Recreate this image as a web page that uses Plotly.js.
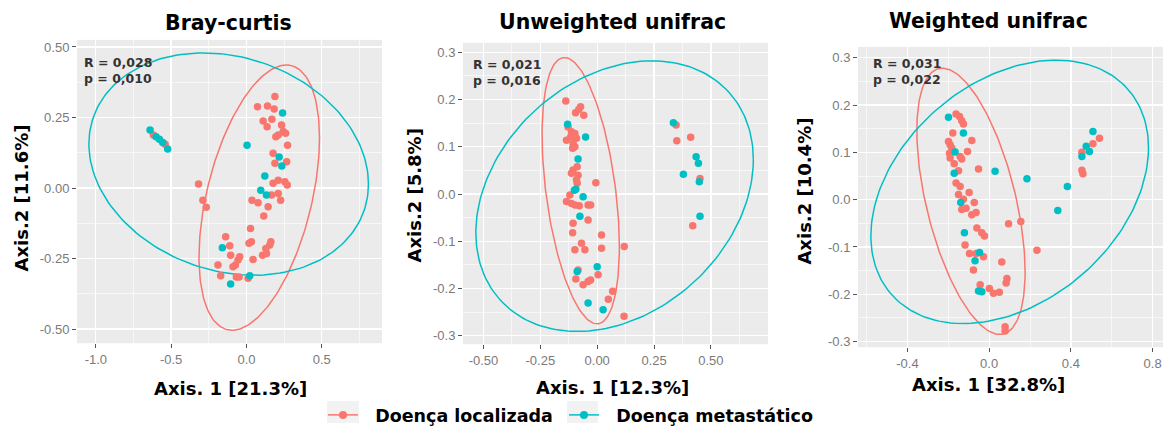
<!DOCTYPE html>
<html>
<head>
<meta charset="utf-8">
<script src="https://cdn.plot.ly/plotly-3.0.1.min.js"></script>
<style>html,body{margin:0;padding:0;background:#fff;}#chart{width:1164px;height:433px;}</style>
</head>
<body>
<div id="chart"></div>
<script>
// ---------- DATA ----------
const groupNames = ["Doença localizada", "Doença metastático"];
const panelTitles = ["Bray-curtis", "Unweighted unifrac", "Weighted unifrac"];
const xTitles = ["Axis. 1 [21.3%]", "Axis. 1 [12.3%]", "Axis. 1 [32.8%]"];
const yTitles = ["Axis.2 [11.6%]", "Axis.2 [5.8%]", "Axis.2 [10.4%]"];
const statR = ["R = 0,028", "R = 0,021", "R = 0,031"];
const statP = ["p = 0,010", "p = 0,016", "p = 0,022"];

// Bray-curtis
const brayLocX = [0.189,0.073,0.14,0.184,0.111,0.169,0.137,0.233,0.244,0.211,0.195,0.26,0.273,0.177,0.189,0.267,
  -0.318,-0.289,-0.267,0.037,0.077,0.144,0.115,0.167,0.211,0.227,0.177,0.211,0.255,0.271,
  0.027,0.033,0.017,0.162,0.155,0.129,0.107,0.133,-0.138,-0.111,-0.105,-0.045,-0.056,-0.073,-0.089,0.044,
  -0.189,-0.171,-0.067,-0.049,0.011,-0.618,-0.54];
const brayLocY = [0.324,0.288,0.291,0.28,0.238,0.244,0.217,0.223,0.2,0.188,0.182,0.194,0.152,0.123,0.088,0.093,
  0.014,-0.043,-0.068,-0.043,-0.052,-0.066,-0.099,-0.025,-0.019,-0.043,0.017,0.028,0.022,0.011,
  -0.143,-0.19,-0.196,-0.19,-0.202,-0.214,-0.238,-0.232,-0.173,-0.205,-0.238,-0.244,-0.255,-0.273,-0.279,-0.253,
  -0.273,-0.311,-0.315,-0.315,-0.32,0.188,0.155];
const brayMetX = [0.24,0.004,0.217,0.235,0.122,0.095,0.133,-0.16,0.022,-0.105,-0.64,-0.6,-0.578,-0.556,-0.523];
const brayMetY = [0.266,0.152,0.11,0.078,0.043,-0.008,-0.025,-0.212,-0.311,-0.34,0.206,0.182,0.173,0.161,0.138];

// Unweighted unifrac
const unwLocX = [-0.138,-0.095,-0.073,-0.059,-0.081,-0.128,-0.113,-0.098,-0.135,-0.117,-0.106,-0.091,-0.108,-0.098,
  -0.088,-0.106,-0.113,-0.084,-0.091,-0.088,-0.12,-0.135,-0.113,-0.098,-0.079,-0.04,-0.029,-0.006,
  -0.106,-0.04,-0.108,0.019,-0.069,-0.098,-0.054,0.019,0.119,-0.084,-0.094,-0.062,-0.04,-0.029,0.004,0.068,0.049,0.118,
  0.347,0.35,0.411,0.452,0.42];
const unwLocY = [0.197,0.172,0.185,0.167,0.179,0.142,0.132,0.128,0.114,0.121,0.107,0.118,0.097,0.1,
  0.058,0.051,0.044,0.04,0.03,0.023,-0.002,-0.016,-0.02,-0.023,-0.025,-0.023,-0.023,0.024,
  -0.062,-0.055,-0.082,-0.087,-0.104,-0.118,-0.118,-0.115,-0.111,-0.161,-0.18,-0.192,-0.185,-0.182,-0.171,-0.206,-0.223,-0.259,
  0.146,0.113,0.12,0.033,-0.067];
const unwMetX = [-0.13,-0.051,-0.084,-0.094,-0.1,-0.062,-0.076,-0.088,0.0,-0.04,0.026,0.335,0.435,0.445,0.379,0.449,0.452];
const unwMetY = [0.148,0.121,0.074,0.01,0.008,-0.006,-0.047,-0.164,-0.154,-0.231,-0.245,0.151,0.079,0.065,0.042,0.026,-0.047];

// Weighted unifrac
const wLocX = [-0.162,-0.145,-0.134,-0.126,-0.178,-0.085,-0.199,-0.191,-0.183,-0.194,-0.175,-0.106,-0.142,-0.134,-0.191,
  -0.171,-0.15,-0.052,-0.162,-0.142,-0.15,-0.126,-0.098,-0.073,-0.113,-0.134,-0.085,-0.064,-0.06,-0.036,-0.023,
  0.095,0.155,0.234,-0.118,-0.096,-0.064,-0.028,0.062,-0.077,0.087,0.083,-0.044,0.001,0.021,0.05,0.078,0.078,
  0.54,0.508,0.454,0.454,0.459];
const wLocY = [0.181,0.176,0.167,0.16,0.141,0.125,0.123,0.116,0.109,0.098,0.102,0.102,0.091,0.086,0.088,
  0.076,0.061,0.065,0.035,0.028,0.011,0.001,0.015,-0.006,-0.018,-0.021,-0.032,-0.027,-0.06,-0.07,-0.077,
  -0.051,-0.046,-0.107,-0.096,-0.114,-0.114,-0.121,-0.132,-0.149,-0.167,-0.176,-0.18,-0.188,-0.198,-0.196,-0.269,-0.278,
  0.13,0.118,0.1,0.062,0.055];
const wMetX = [-0.199,-0.126,-0.167,-0.171,-0.139,0.029,0.185,-0.121,-0.047,-0.069,-0.052,-0.036,0.508,0.475,0.491,0.454,0.383,0.336];
const wMetY = [0.174,0.141,0.101,0.056,-0.006,0.06,0.044,-0.07,-0.112,-0.129,-0.193,-0.195,0.144,0.113,0.102,0.091,0.028,-0.023];

// ellipse read-offs: [centerX, centerY, halfWidthX, halfHeightY, correlation]
const brayEllLoc = [0.085,-0.034,0.40,0.47,0.45];
const brayEllMet = [-0.118,0.085,0.928,0.394,-0.18];
const unwEllLoc = [-0.0725,0.007,0.17,0.282,-0.42];
const unwEllMet = [0.0765,-0.0045,0.61,0.2865,0.27];
const wEllLoc = [-0.089,-0.0035,0.265,0.2815,-0.53];
const wEllMet = [0.1005,0.0165,0.6795,0.2785,0.335];

// tick labels
const brayXTicks = [-1.0,-0.5,0.0,0.5], brayXText = ["-1.0","-0.5","0.0","0.5"];
const brayYTicks = [-0.5,-0.25,0,0.25,0.5], brayYText = ["-0.50","-0.25","0.00","0.25","0.50"];
const unwXTicks = [-0.5,-0.25,0,0.25,0.5], unwXText = ["-0.50","-0.25","0.00","0.25","0.50"];
const unwYTicks = [-0.3,-0.2,-0.1,0,0.1,0.2,0.3], unwYText = ["-0.3","-0.2","-0.1","0.0","0.1","0.2","0.3"];
const wXTicks = [-0.4,0,0.4,0.8], wXText = ["-0.4","0.0","0.4","0.8"];
const wYTicks = [-0.3,-0.2,-0.1,0,0.1,0.2,0.3], wYText = ["-0.3","-0.2","-0.1","0.0","0.1","0.2","0.3"];

// ---------- BUILD ----------
const RED = "#F8766D", TEAL = "#00BFC4";
const W = 1164, H = 433;
const BOLD = 'DejaVu Sans, sans-serif';
function ellipse(p){
  const [cx,cy,rx,ry,c] = p; const phi = Math.acos(c);
  const xs=[], ys=[];
  for(let i=0;i<=200;i++){const t=2*Math.PI*i/200; xs.push(cx+rx*Math.cos(t)); ys.push(cy+ry*Math.cos(t-phi));}
  return {xs, ys};
}
const panels = [
  {loc:[brayLocX,brayLocY], met:[brayMetX,brayMetY], eL:brayEllLoc, eM:brayEllMet},
  {loc:[unwLocX,unwLocY], met:[unwMetX,unwMetY], eL:unwEllLoc, eM:unwEllMet},
  {loc:[wLocX,wLocY], met:[wMetX,wMetY], eL:wEllLoc, eM:wEllMet}
];
const traces = [];
panels.forEach((p,i)=>{
  const xa = i===0?'x':'x'+(i+1), ya = i===0?'y':'y'+(i+1);
  const el = ellipse(p.eL), em = ellipse(p.eM);
  traces.push({x:el.xs,y:el.ys,xaxis:xa,yaxis:ya,mode:'lines',line:{color:RED,width:1.5},showlegend:false,hoverinfo:'skip'});
  traces.push({x:em.xs,y:em.ys,xaxis:xa,yaxis:ya,mode:'lines',line:{color:TEAL,width:1.5},showlegend:false,hoverinfo:'skip'});
  traces.push({x:p.loc[0],y:p.loc[1],xaxis:xa,yaxis:ya,mode:'markers',marker:{color:RED,size:7.5},name:groupNames[0],showlegend:false});
  traces.push({x:p.met[0],y:p.met[1],xaxis:xa,yaxis:ya,mode:'markers',marker:{color:TEAL,size:7.5},name:groupNames[1],showlegend:false});
});
// legend entries
const NB = '\u00A0\u00A0';
traces.push({x:[null],y:[null],mode:'lines+markers',marker:{color:RED,size:8},line:{color:RED,width:1.5},name:NB+groupNames[0]+'\u00A0',showlegend:true});
traces.push({x:[null],y:[null],mode:'lines+markers',marker:{color:TEAL,size:8},line:{color:TEAL,width:1.5},name:NB+groupNames[1],showlegend:true});

const boxes = [[77,382,40,344],[463,768,43,345],[858,1163,47,348]];
const ranges = [
  {x:[-1.125,0.90], y:[-0.55,0.525]},
  {x:[-0.59,0.751], y:[-0.318,0.32]},
  {x:[-0.642,0.851], y:[-0.312,0.323]}
];
const ticks = [
  {xv:brayXTicks,xt:brayXText,yv:brayYTicks,yt:brayYText,xm:[-0.75,-0.25,0.25,0.75],ym:[-0.375,-0.125,0.125,0.375]},
  {xv:unwXTicks,xt:unwXText,yv:unwYTicks,yt:unwYText,xm:[-0.375,-0.125,0.125,0.375,0.625],ym:[-0.25,-0.15,-0.05,0.05,0.15,0.25]},
  {xv:wXTicks,xt:wXText,yv:wYTicks,yt:wYText,xm:[-0.6,-0.2,0.2,0.6],ym:[-0.25,-0.15,-0.05,0.05,0.15,0.25]}
];
const tickFont = {family:'Liberation Sans, Arial, sans-serif', size:13, color:'#7a7a7a'};
const layout = {
  width:W, height:H, margin:{l:0,r:0,t:0,b:0},
  paper_bgcolor:'#fff', plot_bgcolor:'#EBEBEB',
  showlegend:true,
  legend:{orientation:'h', traceorder:'normal', x:323/W, xanchor:'left', y:1-416/H, yanchor:'middle',
    font:{family:BOLD, size:17.5, color:'#000', weight:700}, bgcolor:'rgba(0,0,0,0)', borderwidth:0},
  annotations:[],
  shapes:[
    {type:'rect', xref:'paper', yref:'paper', x0:327/W, x1:359/W, y0:1-424/H, y1:1-402/H, fillcolor:'#F2F2F2', line:{width:0}, layer:'below'},
    {type:'rect', xref:'paper', yref:'paper', x0:567/W, x1:598/W, y0:1-424/H, y1:1-402/H, fillcolor:'#F2F2F2', line:{width:0}, layer:'below'}
  ]
};
boxes.forEach((b,i)=>{
  const sx = i===0?'':String(i+1);
  const xa = {domain:[b[0]/W,b[1]/W], range:ranges[i].x, anchor:'y'+sx, tickmode:'array', tickvals:ticks[i].xv, ticktext:ticks[i].xt,
    showgrid:true, gridcolor:'#fff', gridwidth:1.3, zeroline:false, showline:false, ticks:'outside', ticklen:4, tickcolor:'#555', tickwidth:1,
    tickfont:tickFont, minor:{tickmode:'array', tickvals:ticks[i].xm, showgrid:true, gridcolor:'#fff', gridwidth:0.6, ticks:''}, fixedrange:true};
  const ya = {domain:[1-b[3]/H,1-b[2]/H], range:ranges[i].y, anchor:'x'+sx, tickmode:'array', tickvals:ticks[i].yv, ticktext:ticks[i].yt,
    showgrid:true, gridcolor:'#fff', gridwidth:1.3, zeroline:false, showline:false, ticks:'outside', ticklen:4, tickcolor:'#555', tickwidth:1,
    tickfont:tickFont, minor:{tickmode:'array', tickvals:ticks[i].ym, showgrid:true, gridcolor:'#fff', gridwidth:0.6, ticks:''}, fixedrange:true};
  layout['xaxis'+sx] = xa; layout['yaxis'+sx] = ya;
});
const titlePos = [[228,23],[612,22],[988,21]];
const xTitlePos = [[230,389],[612,388],[988,385]];
const yTitlePos = [[22,199],[415,196],[805,192]];
const statPos = [[82,62],[471,64],[871,63]];
const boldFont = (s)=>({family:BOLD, size:s, color:'#000', weight:700});
for(let i=0;i<3;i++){
  layout.annotations.push({text:panelTitles[i], xref:'paper', yref:'paper', x:titlePos[i][0]/W, y:1-titlePos[i][1]/H, xanchor:'center', yanchor:'middle', showarrow:false, font:boldFont(20.5)});
  layout.annotations.push({text:xTitles[i], xref:'paper', yref:'paper', x:xTitlePos[i][0]/W, y:1-xTitlePos[i][1]/H, xanchor:'center', yanchor:'middle', showarrow:false, font:boldFont(18)});
  layout.annotations.push({text:yTitles[i], xref:'paper', yref:'paper', x:yTitlePos[i][0]/W, y:1-yTitlePos[i][1]/H, xanchor:'center', yanchor:'middle', textangle:-90, showarrow:false, font:boldFont(18)});
  layout.annotations.push({text:statR[i]+'<br>'+statP[i], xref:'paper', yref:'paper', x:statPos[i][0]/W, y:1-(statPos[i][1]-9)/H, xanchor:'left', yanchor:'top', align:'left', showarrow:false,
    font:{family:BOLD, size:12.5, color:'#333', weight:700}});
}
Plotly.newPlot('chart', traces, layout, {staticPlot:true, displayModeBar:false});
</script>
</body>
</html>
